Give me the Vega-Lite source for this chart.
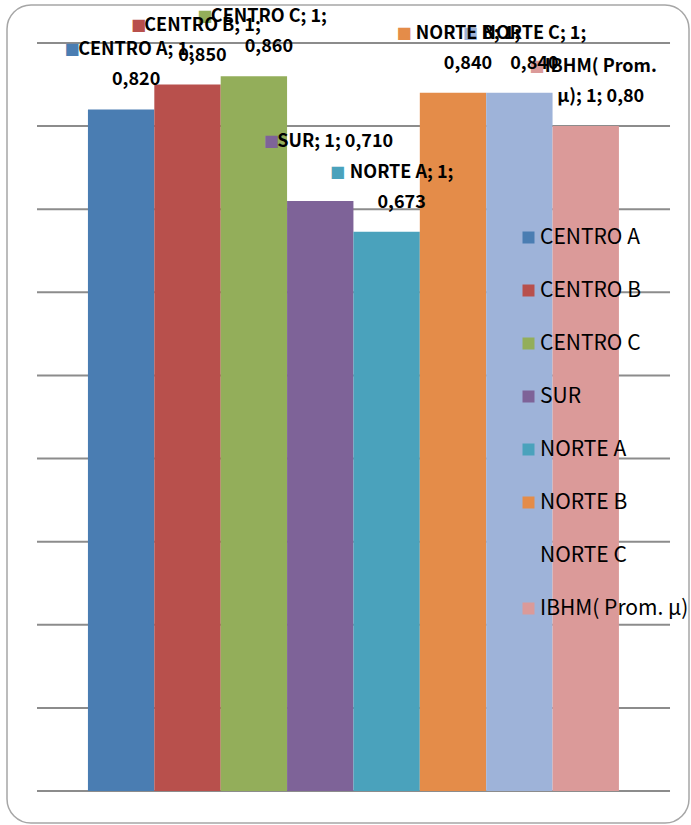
{
  "$schema": "https://vega.github.io/schema/vega-lite/v6.json",
  "width": 682,
  "height": 818,
  "autosize": {"type": "none"},
  "padding": {"left": 7, "top": 5, "right": 2, "bottom": 2},
  "background": "white",
  "config": {
    "view": {"stroke": "#a6a6a6", "strokeWidth": 1.5, "cornerRadius": 24},
    "font": "Noto Sans CJK SC"
  },
  "datasets": {
    "bars": [
      {"cat": "1", "series": "CENTRO A", "value": 0.82, "l1": "CENTRO A; 1;", "l2": "0,820"},
      {"cat": "1", "series": "CENTRO B", "value": 0.85, "l1": "CENTRO B; 1;", "l2": "0,850"},
      {"cat": "1", "series": "CENTRO C", "value": 0.86, "l1": "CENTRO C; 1;", "l2": "0,860"},
      {"cat": "1", "series": "SUR", "value": 0.71, "l1": "SUR; 1; 0,710", "l2": ""},
      {"cat": "1", "series": "NORTE A", "value": 0.673, "l1": "NORTE A; 1;", "l2": "0,673"},
      {"cat": "1", "series": "NORTE B", "value": 0.84, "l1": "NORTE B; 1;", "l2": "0,840"},
      {"cat": "1", "series": "NORTE C", "value": 0.84, "l1": "NORTE C; 1;", "l2": "0,840"},
      {"cat": "1", "series": "IBHM( Prom. µ)", "value": 0.80, "l1": "IBHM( Prom.", "l2": "µ); 1; 0,80"}
    ],
    "grid": [
      {"v": 0}, {"v": 0.1}, {"v": 0.2}, {"v": 0.3}, {"v": 0.4},
      {"v": 0.5}, {"v": 0.6}, {"v": 0.7}, {"v": 0.8}, {"v": 0.9}
    ]
  },
  "layer": [
    {
      "data": {"name": "grid"},
      "mark": {"type": "rule", "color": "#8c8c8c", "strokeWidth": 2},
      "encoding": {
        "y": {"field": "v", "type": "quantitative", "scale": {"domain": [-0.0385, 0.9457], "nice": false, "zero": false}, "axis": null},
        "x": {"datum": 0, "type": "quantitative", "scale": {"domain": [-0.0474, 1.03], "nice": false, "zero": false}, "axis": null},
        "x2": {"datum": 1}
      }
    },
    {
      "data": {"name": "bars"},
      "encoding": {
        "x": {"field": "cat", "type": "nominal", "scale": {"paddingInner": 0, "paddingOuter": 0.1422, "align": 0.536}, "axis": null},
        "xOffset": {"field": "series", "type": "nominal", "sort": null, "scale": {"paddingInner": 0, "paddingOuter": 0}},
        "y": {"field": "value", "type": "quantitative", "scale": {"domain": [-0.0385, 0.9457], "nice": false, "zero": false}, "axis": null}
      },
      "layer": [
        {
          "mark": {"type": "bar"},
          "encoding": {
            "y2": {"datum": 0},
            "color": {
              "field": "series", "type": "nominal", "sort": null,
              "scale": {"range": ["#4a7db2", "#b8504c", "#93ae5a", "#7e6398", "#4aa2bc", "#e48c49", "#9eb3d9", "#db9a99"]},
              "legend": {
                "title": null, "orient": "none", "legendX": 511, "legendY": 222,
                "symbolType": "square", "symbolSize": 144, "symbolStrokeWidth": 0,
                "labelFontSize": 21, "labelColor": "#000000", "labelFont": "Noto Sans CJK SC",
                "labelOffset": 1, "rowPadding": 31, "padding": 0, "labelLimit": 300
              }
            }
          }
        },
        {
          "mark": {"type": "text", "align": "center", "baseline": "middle", "dy": -60, "dx": -49, "fontSize": 16, "font": "DejaVu Sans"},
          "encoding": {
            "text": {"value": "■"},
            "color": {"field": "series", "type": "nominal", "sort": null}
          }
        },
        {
          "mark": {"type": "text", "align": "center", "baseline": "middle", "dy": -59, "dx": 15, "fontSize": 18, "fontWeight": "bold", "color": "#000000"},
          "encoding": {
            "text": {"field": "l1"}
          }
        },
        {
          "mark": {"type": "text", "align": "center", "baseline": "middle", "dy": -29, "dx": 15, "fontSize": 18, "fontWeight": "bold", "color": "#000000"},
          "encoding": {
            "text": {"field": "l2"}
          }
        }
      ]
    }
  ],
  "resolve": {"scale": {"x": "independent"}}
}
